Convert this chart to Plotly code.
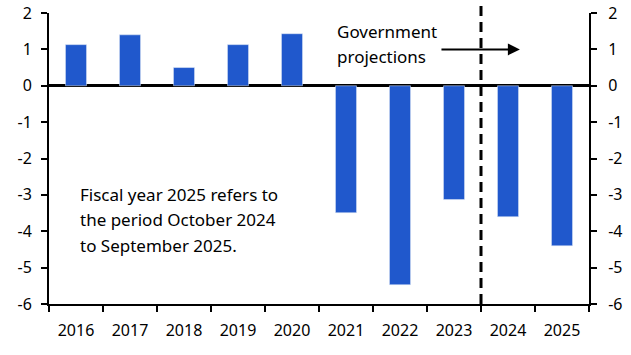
import plotly.graph_objects as go

years = ["2016", "2017", "2018", "2019", "2020", "2021", "2022", "2023", "2024", "2025"]
balance = [1.13, 1.40, 0.50, 1.13, 1.43, -3.49, -5.47, -3.13, -3.60, -4.40]
y_ticks = [2, 1, 0, -1, -2, -3, -4, -5, -6]
note_lines = ["Fiscal year 2025 refers to", "the period October 2024", "to September 2025."]
proj_lines = ["Government", "projections"]

FONT = "Noto Sans"
BLUE = "#2058CC"

fig = go.Figure()
fig.add_trace(go.Bar(x=years, y=balance, marker_color=BLUE, width=0.39, showlegend=False))
fig.add_trace(go.Scatter(x=years, y=balance, yaxis="y2", mode="markers",
                         marker=dict(opacity=0), showlegend=False, hoverinfo="skip"))

axis_common = dict(range=[-6, 2], tickvals=y_ticks, ticktext=[str(v) for v in y_ticks],
                   showgrid=False, showline=True, linecolor="black", linewidth=2,
                   ticks="outside", ticklen=6, tickwidth=2, tickcolor="black",
                   automargin=False, ticklabeloverflow="allow",
                   tickfont=dict(family=FONT, size=16, color="black"))

fig.update_layout(
    width=631, height=355,
    margin=dict(l=49, r=42, t=13, b=51),
    plot_bgcolor="white", paper_bgcolor="white",
    xaxis=dict(type="category", range=[-0.5, 9.5], tickson="boundaries",
               showgrid=False, showline=True, linecolor="black", linewidth=2,
               ticks="outside", ticklen=6, tickwidth=2, tickcolor="black",
               automargin=False, ticklabelstandoff=11,
               tickfont=dict(family=FONT, size=16, color="black")),
    yaxis=dict(**axis_common, zeroline=True, zerolinecolor="black", zerolinewidth=2.5,
               ticklabelstandoff=6),
    yaxis2=dict(**axis_common, overlaying="y", side="right", zeroline=False,
                ticklabelstandoff=8),
)

fig.add_shape(type="line", xref="x", yref="paper", x0=7.5, x1=7.5, y0=0, y1=1.035,
              line=dict(color="black", width=3, dash="10px,6px"))

for i, line in enumerate(note_lines):
    fig.add_annotation(x=0.03, y=-3.0 - 0.69 * i, xref="x", yref="y", text=line,
                       showarrow=False, xanchor="left", yanchor="middle",
                       font=dict(family=FONT, size=17, color="black"))

for i, line in enumerate(proj_lines):
    fig.add_annotation(x=4.80, y=1.49 - 0.69 * i, xref="x", yref="y", text=line,
                       showarrow=False, xanchor="left", yanchor="middle",
                       font=dict(family=FONT, size=17, color="black"))

fig.add_annotation(x=8.22, y=1.0, ax=6.74, ay=1.0, xref="x", yref="y", axref="x", ayref="y",
                   text="", showarrow=True, arrowhead=2, arrowsize=1.2, arrowwidth=2,
                   arrowcolor="black")

fig.write_html("out.html", config={"displayModeBar": False},
               post_script="document.body.style.margin='0';")
